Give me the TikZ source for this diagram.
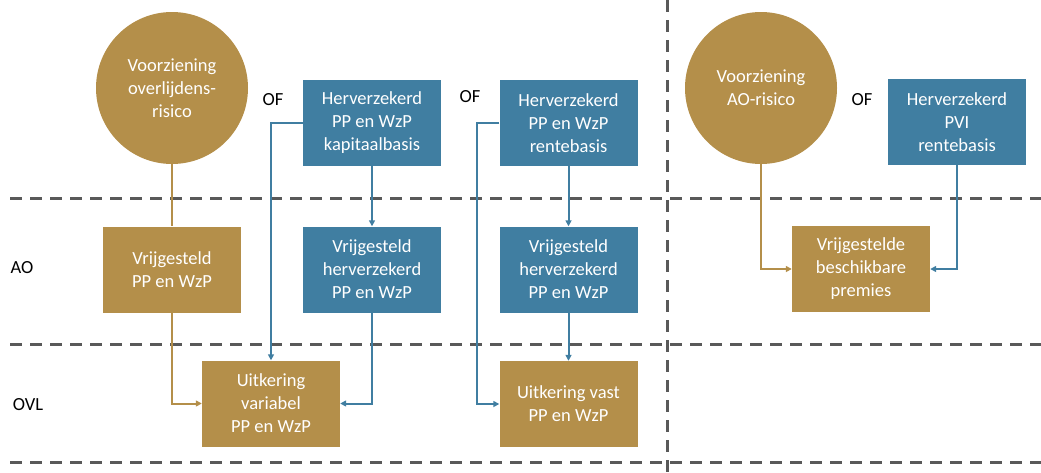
\documentclass[tikz,border=0pt]{standalone}
\usepackage{fontspec}
\setmainfont{Carlito}
\usetikzlibrary{arrows.meta}
\definecolor{goud}{RGB}{180,143,74}
\definecolor{blauw}{RGB}{64,126,161}
\definecolor{streep}{RGB}{89,89,89}
\tikzset{
  tekst/.style={font=\fontsize{18.5}{23}\selectfont},
  blok/.style={tekst,rectangle,minimum width=138pt,minimum height=86pt,align=center,text=white,inner sep=0pt},
  goudblok/.style={blok,fill=goud},
  blauwblok/.style={blok,fill=blauw},
  bol/.style={tekst,circle,fill=goud,minimum size=152pt,align=center,text=white,inner sep=0pt},
  lijn/.style={line width=2pt},
  pijl/.style={lijn,-{Triangle[length=6pt,width=6pt]}},
  grens/.style={line width=3pt,streep,dash pattern=on 12pt off 8pt}
}
\begin{document}
\begin{tikzpicture}[x=1pt,y=-1pt]
\useasboundingbox (0,0) rectangle (1041,472);
%
\draw[grens](10,198)--(1041,198);
\draw[grens](10,344)--(1041,344);
\draw[grens](10,462)--(1041,462);
\draw[grens](667,0)--(667,472);
%
\node[tekst](ao) at (22,268){AO};
\node[tekst](ovl) at (28,405){OVL};
\node[tekst](of1) at (273,100){OF};
\node[tekst](of2) at (470,97){OF};
\node[tekst](of3) at (862,100){OF};
%
\node[bol](vo) at (172,88){Voorziening\\overlijdens-\\risico};
\node[blauwblok](kap) at (372,123){Herverzekerd\\PP en WzP\\kapitaalbasis};
\node[blauwblok](rente) at (568.5,123){Herverzekerd\\PP en WzP\\rentebasis};
\node[goudblok](vpp) at (172,269.5){Vrijgesteld\\PP en WzP};
\node[blauwblok](vhk) at (372,269.5){Vrijgesteld\\herverzekerd\\PP en WzP};
\node[blauwblok](vhr) at (568.5,269.5){Vrijgesteld\\herverzekerd\\PP en WzP};
\node[goudblok](uvar) at (271,403.5){Uitkering\\variabel\\PP en WzP};
\node[goudblok](uvast) at (568.5,404){Uitkering vast\\PP en WzP};
%
\node[bol](vao) at (761,88){Voorziening\\AO-risico};
\node[blauwblok](pvi) at (957,122){Herverzekerd\\PVI\\rentebasis};
\node[goudblok](vbp) at (861,269){Vrijgestelde\\beschikbare\\premies};
%
\draw[lijn,goud](vo)--(vpp);
\draw[pijl,goud](vpp.south)|-(uvar.west);
\draw[pijl,blauw](kap.west)-|(uvar.north);
\draw[pijl,blauw](kap)--(vhk);
\draw[pijl,blauw](vhk.south)|-(uvar.east);
\draw[pijl,blauw](rente)--(vhr);
\draw[pijl,blauw](vhr)--(uvast);
\draw[pijl,blauw](rente.west)--++(-22,0)|-(uvast.west);
\draw[pijl,goud](vao.south)|-(vbp.west);
\draw[pijl,blauw](pvi.south)|-(vbp.east);
\end{tikzpicture}
\end{document}
